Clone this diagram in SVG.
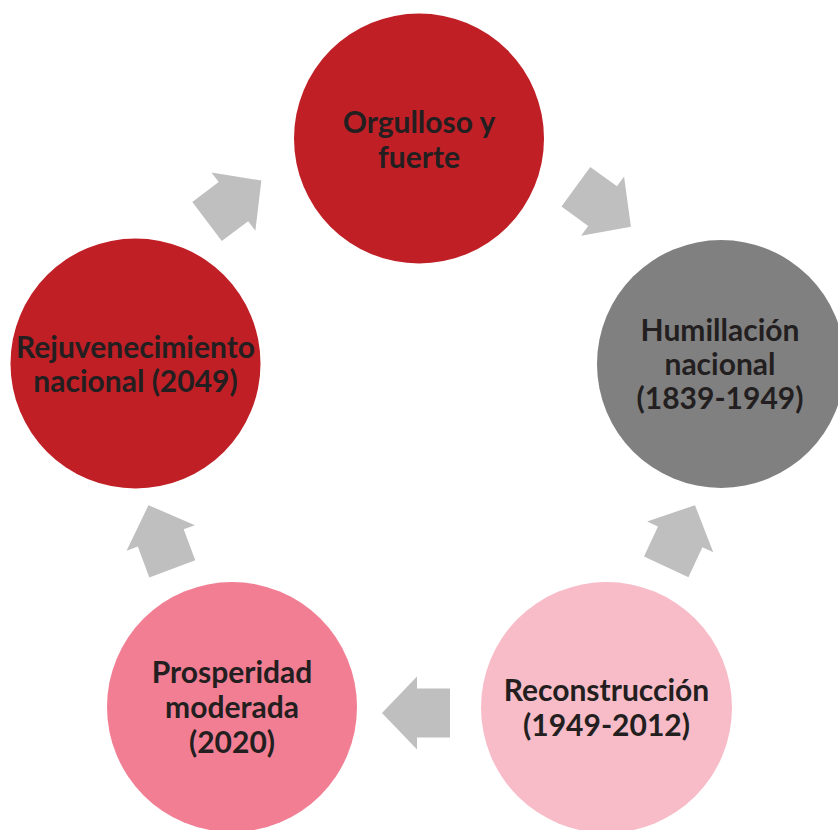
<svg xmlns="http://www.w3.org/2000/svg" width="838" height="830" viewBox="0 0 838 830">
<defs>
<style>
.lbl{font-family:Lato,"Open Sans","Liberation Sans",sans-serif;font-weight:700;font-size:30px;fill:#231F20;text-anchor:middle}
.arr{fill:#BFBFBF}
</style>
<polygon id="arrow" points="-34,-24.5 -1,-24.5 -1,-36.5 34,0 -1,36.5 -1,24.5 -34,24.5"/>
</defs>
<rect width="838" height="830" fill="#FFFFFF"/>
<g id="connectors" class="arr">
<use href="#arrow" transform="translate(234.2,201) rotate(-37)"/>
<use href="#arrow" transform="translate(603.4,206.7) rotate(36)"/>
<use href="#arrow" transform="translate(680.6,536) rotate(-65)"/>
<use href="#arrow" transform="translate(416,713) rotate(180)"/>
<use href="#arrow" transform="translate(160.4,537) rotate(-110.5)"/>
</g>
<g id="node-orgulloso">
<circle cx="419" cy="138.5" r="125" fill="#C01F26"/>
<text class="lbl" x="419" y="133">Orgulloso y</text>
<text class="lbl" x="419" y="168">fuerte</text>
</g>
<g id="node-humillacion">
<circle cx="721" cy="364" r="124" fill="#808080"/>
<text class="lbl" x="720" y="341">Humillación</text>
<text class="lbl" x="720" y="375">nacional</text>
<text class="lbl" x="720" y="409">(1839-1949)</text>
</g>
<g id="node-reconstruccion">
<circle cx="606.5" cy="707.5" r="125.5" fill="#F7BCC8"/>
<text class="lbl" x="606.5" y="701">Reconstrucción</text>
<text class="lbl" x="606.5" y="736">(1949-2012)</text>
</g>
<g id="node-prosperidad">
<circle cx="232" cy="707" r="125" fill="#F27E94"/>
<text class="lbl" x="232" y="683">Prosperidad</text>
<text class="lbl" x="232" y="718">moderada</text>
<text class="lbl" x="232" y="753">(2020)</text>
</g>
<g id="node-rejuvenecimiento">
<circle cx="135.5" cy="363.5" r="125" fill="#C01F26"/>
<text class="lbl" x="135.5" y="358">Rejuvenecimiento</text>
<text class="lbl" x="135.5" y="392">nacional (2049)</text>
</g>
</svg>
